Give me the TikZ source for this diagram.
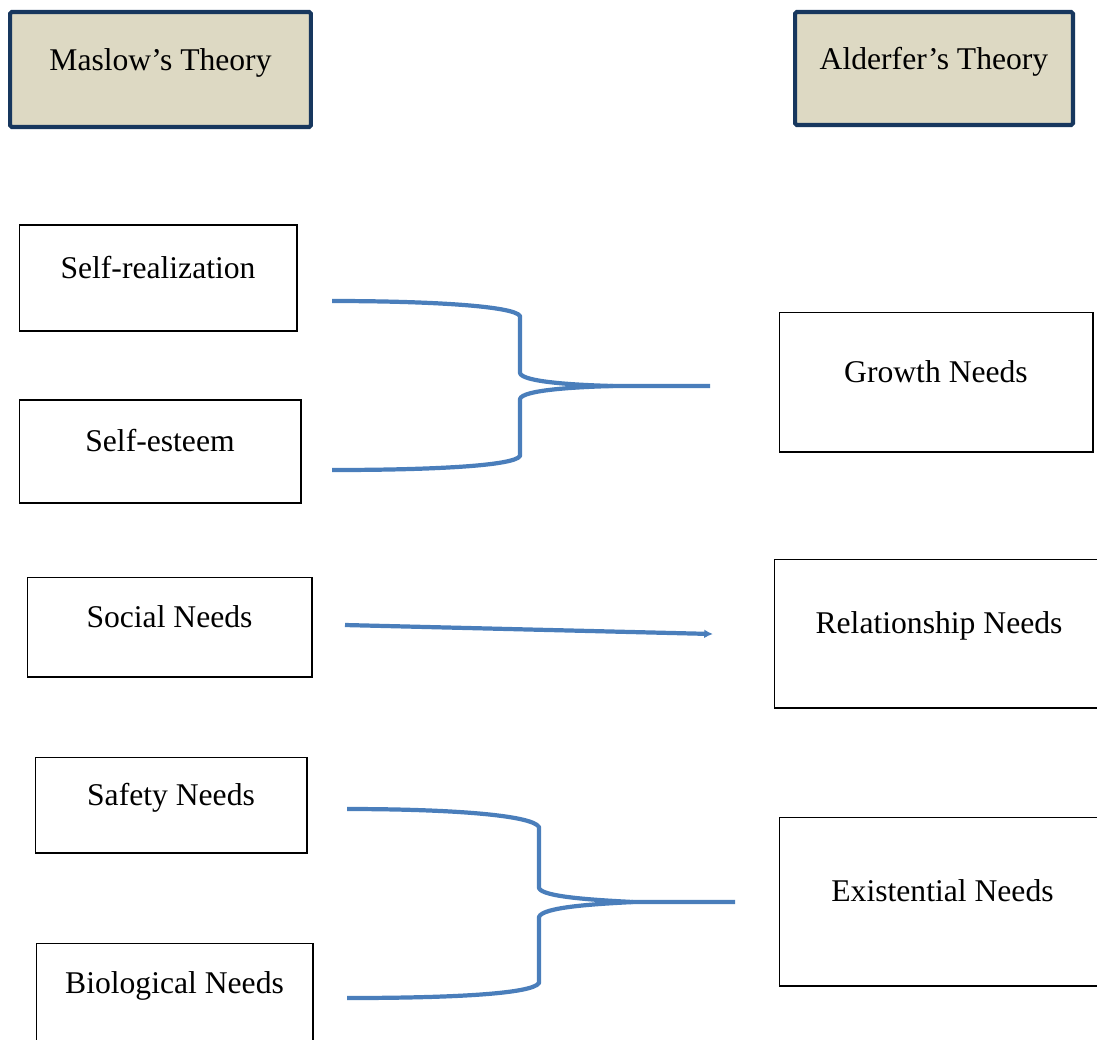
\documentclass[tikz,border=0pt]{standalone}
\usepackage{fontspec}
\setmainfont{Liberation Serif}
\usepackage{tikz}
\usetikzlibrary{arrows.meta}
\definecolor{headerFill}{RGB}{221,217,195}
\definecolor{headerLine}{RGB}{23,55,94}
\definecolor{linkColor}{RGB}{74,126,187}

\begin{document}
\begin{tikzpicture}[x=0.02cm, y=-0.02cm, font=\fontsize{18}{22}\selectfont,
	header/.style={draw=headerLine, line width=2.3pt, fill=headerFill, rounded corners=1pt, inner sep=0pt, text height=0.7em, text depth=0.54em},
	need/.style={draw=black, line width=0.6pt, inner sep=0pt, text height=0.7em, text depth=0.7em},
	link/.style={linkColor, line width=2.4pt, line join=round}]
	\useasboundingbox (0,0) rectangle (1097,1039);

	% Headers
	\node[header, minimum width=6.02cm, minimum height=2.3cm] (maslow) at (160.5,69.5) {Maslow’s Theory};
	\node[header, minimum width=5.56cm, minimum height=2.26cm] (alderfer) at (934,68.5) {Alderfer’s Theory};

	% Maslow's levels
	\node[need, minimum width=5.56cm, minimum height=2.12cm] (selfreal) at (158,278) {Self-realization};
	\node[need, minimum width=5.64cm, minimum height=2.06cm] (selfest) at (160,451.5) {Self-esteem};
	\node[need, minimum width=5.7cm, minimum height=2cm] (social) at (169.5,627) {Social Needs};
	\node[need, minimum width=5.44cm, minimum height=1.92cm] (safety) at (171,805) {Safety Needs};
	\node[need, minimum width=5.54cm, minimum height=2cm] (bio) at (174.5,993) {Biological Needs};

	% Alderfer's levels
	\node[need, minimum width=6.28cm, minimum height=2.8cm] (growth) at (936,382) {Growth Needs};
	\node[need, minimum width=6.6cm, minimum height=2.98cm] (relation) at (939,633.5) {Relationship Needs};
	\node[need, minimum width=6.54cm, minimum height=3.38cm] (exist) at (942.5,901.5) {Existential Needs};

	% Coordinates of the connector ends
	\coordinate (gTop) at (332,301);
	\coordinate (gBot) at (332,470);
	\coordinate (gTip) at (613,386);
	\coordinate (gEnd) at (710,386);
	\coordinate (sStart) at (345,625);
	\coordinate (sEnd) at (713,634);
	\coordinate (eTop) at (347,809);
	\coordinate (eBot) at (347,998);
	\coordinate (eTip) at (633,902);
	\coordinate (eEnd) at (735,902);

	% Growth brace
	\draw[link] (gTop) .. controls (430,301) and (514,306) .. (520,316) -- (520,373)
		.. controls (522,382) and (575,385) .. (gTip) -- (gEnd);
	\draw[link] (gBot) .. controls (430,470) and (514,466) .. (520,456) -- (520,399)
		.. controls (522,390) and (575,387) .. (gTip);

	% Relationship arrow
	\draw[link, -{Latex[length=5pt, width=5pt]}] (sStart) -- (sEnd);

	% Existential brace
	\draw[link] (eTop) .. controls (450,809) and (532,815) .. (539,827) -- (539,888)
		.. controls (542,897) and (595,900) .. (eTip) -- (eEnd);
	\draw[link] (eBot) .. controls (450,998) and (532,994) .. (539,983) -- (539,917)
		.. controls (542,907) and (595,904) .. (eTip);
\end{tikzpicture}
\end{document}
